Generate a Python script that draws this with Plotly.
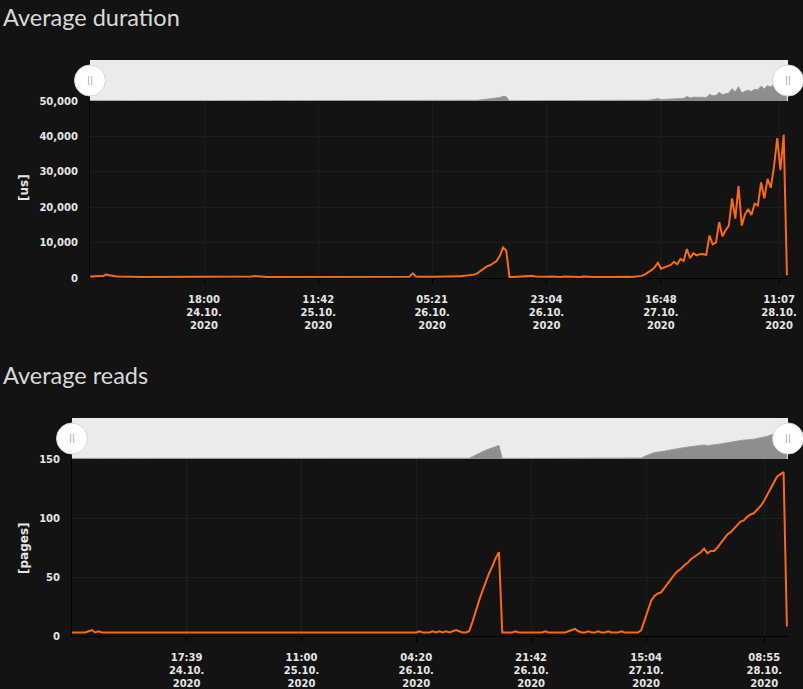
import pandas as pd
import plotly.graph_objects as go

# samples every 30 minutes, both series share the same time axis
START = "2020-10-24 00:20"
STEP = "30min"
RANGE_START = "2020-10-24 00:20"
RANGE_END = "2020-10-28 12:30"

duration_us = [
    400, 500, 450, 600, 500, 1000, 800, 600, 500, 450,
    400, 350, 300, 300, 350, 300, 300, 300, 300, 300,
    300, 300, 300, 300, 300, 300, 300, 300, 300, 300,
    300, 300, 300, 300, 300, 300, 300, 300, 300, 300,
    300, 300, 300, 300, 300, 300, 300, 300, 300, 350,
    400, 550, 450, 350, 300, 300, 300, 300, 300, 300,
    300, 300, 300, 300, 300, 300, 300, 300, 300, 300,
    300, 300, 300, 300, 300, 300, 300, 300, 300, 300,
    300, 300, 300, 300, 300, 300, 300, 300, 300, 300,
    300, 300, 300, 300, 300, 350, 350, 500, 400, 350,
    1300, 400, 350, 400, 350, 400, 350, 350, 400, 350,
    400, 450, 400, 450, 500, 500, 600, 700, 750, 950,
    1300, 1900, 2500, 3300, 3600, 4300, 4800, 6200, 8600, 7800,
    300, 300, 350, 300, 400, 500, 450, 600, 400, 350,
    500, 400, 350, 400, 300, 350, 300, 400, 350, 300,
    300, 350, 300, 400, 300, 350, 300, 300, 350, 300,
    400, 300, 300, 350, 300, 300, 300, 350, 300, 400,
    500, 600, 1000, 1500, 2200, 3000, 4300, 2600, 2900, 3400,
    3700, 4600, 3900, 5400, 4800, 8200, 5600, 7000, 6400, 6700,
    6800, 6500, 12000, 9500, 10000, 15800, 11800, 13500, 14800, 22500,
    16800, 26000, 14800, 18000, 19500, 17800, 21000, 20500, 27000, 22500,
    28000, 25500, 31500, 39500, 30500, 40500, 800,
]

reads_pages = [
    3, 3, 3, 3, 3, 4, 5, 3, 4, 3,
    3, 3, 3, 3, 3, 3, 3, 3, 3, 3,
    3, 3, 3, 3, 3, 3, 3, 3, 3, 3,
    3, 3, 3, 3, 3, 3, 3, 3, 3, 3,
    3, 3, 3, 3, 3, 3, 3, 3, 3, 3,
    3, 3, 3, 3, 3, 3, 3, 3, 3, 3,
    3, 3, 3, 3, 3, 3, 3, 3, 3, 3,
    3, 3, 3, 3, 3, 3, 3, 3, 3, 3,
    3, 3, 3, 3, 3, 3, 3, 3, 3, 3,
    3, 3, 3, 3, 3, 3, 3, 3, 3, 3,
    3, 3, 3, 3, 3, 4, 3, 3, 3, 4,
    3, 4, 3, 4, 3, 4, 5, 4, 3, 3,
    4, 12, 22, 30, 38, 46, 53, 59, 66, 71,
    3, 3, 3, 3, 4, 3, 3, 3, 3, 3,
    3, 3, 3, 4, 3, 3, 3, 3, 3, 3,
    4, 5, 6, 4, 3, 3, 4, 3, 3, 4,
    3, 3, 4, 3, 3, 3, 4, 3, 3, 3,
    3, 3, 5, 14, 22, 30, 34, 36, 37, 41,
    45, 49, 52, 55, 57, 60, 62, 65, 67, 69,
    71, 74, 70, 72, 72, 75, 79, 82, 86, 88,
    91, 94, 97, 98, 101, 103, 104, 107, 110, 114,
    119, 125, 130, 135, 137, 139, 8,
]

duration_tickvals = ["2020-10-24 18:00", "2020-10-25 11:42", "2020-10-26 05:21",
                     "2020-10-26 23:04", "2020-10-27 16:48", "2020-10-28 11:07"]
duration_ticktext = ["18:00<br>24.10.<br>2020", "11:42<br>25.10.<br>2020", "05:21<br>26.10.<br>2020",
                     "23:04<br>26.10.<br>2020", "16:48<br>27.10.<br>2020", "11:07<br>28.10.<br>2020"]
reads_tickvals = ["2020-10-24 17:39", "2020-10-25 11:00", "2020-10-26 04:20",
                  "2020-10-26 21:42", "2020-10-27 15:04", "2020-10-28 08:55"]
reads_ticktext = ["17:39<br>24.10.<br>2020", "11:00<br>25.10.<br>2020", "04:20<br>26.10.<br>2020",
                  "21:42<br>26.10.<br>2020", "15:04<br>27.10.<br>2020", "08:55<br>28.10.<br>2020"]

BG = "#131313"
ORANGE = "#f96b0e"
GRID = "#1d1d1d"
NAV_BG = "#ebebeb"
NAV_FILL = "#8e8e8e"
TICK_FONT = dict(family="DejaVu Sans", size=10, color="#e6e6e6", weight="bold")
AXIS_TITLE_FONT = dict(family="DejaVu Sans", size=12, color="#e6e6e6", weight="bold")
TITLE_FONT = dict(family="Lato", size=23.5, color="#d9d9d9")

DUR_NAV_MAX = 75000
READS_NAV_MAX = 215

times = pd.date_range(START, periods=len(duration_us), freq=STEP)

fig = go.Figure()

# main lines
fig.add_trace(go.Scatter(x=times, y=duration_us, mode="lines", line=dict(color=ORANGE, width=2),
                         xaxis="x", yaxis="y", hoverinfo="skip"))
fig.add_trace(go.Scatter(x=times, y=reads_pages, mode="lines", line=dict(color=ORANGE, width=2),
                         xaxis="x2", yaxis="y2", hoverinfo="skip"))

# navigators
fig.add_trace(go.Scatter(x=times, y=duration_us, mode="lines", fill="tozeroy", fillcolor=NAV_FILL,
                         line=dict(color="#9a9a9a", width=1), xaxis="x3", yaxis="y3", hoverinfo="skip"))
fig.add_trace(go.Scatter(x=times, y=reads_pages, mode="lines", fill="tozeroy", fillcolor=NAV_FILL,
                         line=dict(color="#9a9a9a", width=1), xaxis="x4", yaxis="y4", hoverinfo="skip"))

# navigator handles
for xa, ya, ymax in (("x3", "y3", DUR_NAV_MAX), ("x4", "y4", READS_NAV_MAX)):
    fig.add_trace(go.Scatter(
        x=[RANGE_START, RANGE_END], y=[ymax / 2, ymax / 2], mode="markers+text",
        marker=dict(size=31, color="white", line=dict(color="#d6d6d6", width=1)),
        text=["||", "||"], textposition="middle center",
        textfont=dict(family="DejaVu Sans", size=9, color="#a0a0a0"),
        cliponaxis=False, xaxis=xa, yaxis=ya, hoverinfo="skip"))

top_x = [90 / 803, 788 / 803]
bot_x = [72 / 803, 788 / 803]


def main_x(domain, anchor, tickvals, ticktext):
    return dict(domain=domain, anchor=anchor, type="date", range=[RANGE_START, RANGE_END],
                tickvals=tickvals, ticktext=ticktext, tickfont=TICK_FONT,
                ticks="outside", ticklen=5, tickcolor="#000000", ticklabelstandoff=7,
                showline=True, linecolor="#000000", linewidth=1, automargin=False,
                showgrid=True, gridcolor=GRID, zeroline=False)


def main_y(domain, anchor, rng, dtick):
    return dict(domain=domain, anchor=anchor, range=rng, dtick=dtick, tickformat=",d",
                tickfont=TICK_FONT, showline=True, linecolor="#000000", linewidth=1,
                automargin=False, showgrid=True, gridcolor=GRID, zeroline=False,
                ticks="", ticklabelstandoff=9)


def nav_axis(domain, anchor, rng):
    return dict(domain=domain, anchor=anchor, range=rng, visible=False, fixedrange=True,
                automargin=False)


fig.update_layout(
    width=803, height=689,
    margin=dict(l=0, r=0, t=0, b=0, autoexpand=False),
    paper_bgcolor=BG, plot_bgcolor=BG,
    showlegend=False,
    xaxis=main_x(top_x, "y", duration_tickvals, duration_ticktext),
    yaxis=main_y([1 - 278 / 689, 1 - 101 / 689], "x", [0, 50000], 10000),
    xaxis2=main_x(bot_x, "y2", reads_tickvals, reads_ticktext),
    yaxis2=main_y([1 - 636 / 689, 1 - 459 / 689], "x2", [0, 150], 50),
    xaxis3=nav_axis(top_x, "y3", [RANGE_START, RANGE_END]),
    yaxis3=nav_axis([1 - 101 / 689, 1 - 60 / 689], "x3", [0, DUR_NAV_MAX]),
    xaxis4=nav_axis(bot_x, "y4", [RANGE_START, RANGE_END]),
    yaxis4=nav_axis([1 - 459 / 689, 1 - 418 / 689], "x4", [0, READS_NAV_MAX]),
    shapes=[
        dict(type="rect", xref="x3 domain", yref="y3 domain", x0=0, x1=1, y0=0, y1=1,
             fillcolor=NAV_BG, line=dict(width=0), layer="below"),
        dict(type="rect", xref="x4 domain", yref="y4 domain", x0=0, x1=1, y0=0, y1=1,
             fillcolor=NAV_BG, line=dict(width=0), layer="below"),
    ],
    annotations=[
        dict(text="Average duration", x=1 / 803, y=1 - 17 / 689, xref="paper", yref="paper",
             xanchor="left", yanchor="middle", showarrow=False, font=TITLE_FONT),
        dict(text="Average reads", x=1 / 803, y=1 - 375 / 689, xref="paper", yref="paper",
             xanchor="left", yanchor="middle", showarrow=False, font=TITLE_FONT),
        dict(text="[us]", x=24 / 803, y=1 - 188 / 689, xref="paper", yref="paper", textangle=-90,
             xanchor="center", yanchor="middle", showarrow=False, font=AXIS_TITLE_FONT),
        dict(text="[pages]", x=24 / 803, y=1 - 548 / 689, xref="paper", yref="paper", textangle=-90,
             xanchor="center", yanchor="middle", showarrow=False, font=AXIS_TITLE_FONT),
    ],
)

# the page body has a default margin; drop it so the figure fills the window
fig.write_html("out.html", config={"displayModeBar": False},
               post_script="document.body.style.margin='0';document.body.style.background='#131313';")
